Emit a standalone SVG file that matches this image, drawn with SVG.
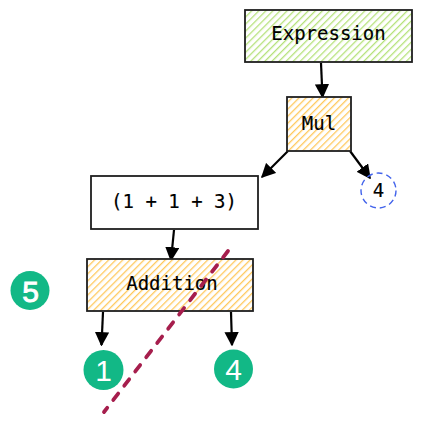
<svg xmlns="http://www.w3.org/2000/svg" width="421" height="422" viewBox="0 0 421 422">
<defs>
<pattern id="hg" patternUnits="userSpaceOnUse" width="5" height="5" patternTransform="rotate(45)">
<rect width="5" height="5" fill="#ffffff"/>
<line x1="0" y1="0" x2="0" y2="5" stroke="#b5e27a" stroke-width="2.6"/>
</pattern>
<pattern id="ho" patternUnits="userSpaceOnUse" width="5" height="5" patternTransform="rotate(45)">
<rect width="5" height="5" fill="#ffffff"/>
<line x1="0" y1="0" x2="0" y2="5" stroke="#ffc95c" stroke-width="2.6"/>
</pattern>
<marker id="ah" viewBox="0 0 10 10" refX="9" refY="5" markerWidth="6.5" markerHeight="6.5" orient="auto-start-reverse" markerUnits="strokeWidth">
<path d="M0,0 L10,5 L0,10 Z" fill="#000"/>
</marker>
</defs>
<style>
.box{stroke:#1e1e1e;stroke-width:1.8}
.lbl{font-family:"DejaVu Sans Mono","Liberation Mono",monospace;font-size:19px;fill:#000;stroke:#000;stroke-width:0.15;text-anchor:middle}
.badge{fill:#12b886}
.bt{font-family:"Liberation Sans","DejaVu Sans",sans-serif;font-size:30px;fill:#ffffff;text-anchor:middle}
.bold{stroke:#ffffff;stroke-width:0.9}
.conn{stroke:#000;stroke-width:2.2;fill:none;marker-end:url(#ah)}
</style>
<g id="connectors">
<line class="conn" x1="321" y1="63" x2="322.5" y2="97"/>
<line class="conn" x1="288" y1="151" x2="262" y2="177"/>
<line class="conn" x1="350" y1="151" x2="370" y2="178"/>
<line class="conn" x1="174" y1="230" x2="171" y2="260"/>
<line class="conn" x1="103" y1="312" x2="101.5" y2="345"/>
<line class="conn" x1="231" y1="312" x2="232" y2="345"/>
</g>
<g id="expression">
<rect class="box" x="245" y="10" width="167" height="52" fill="url(#hg)"/>
<text class="lbl" x="328.5" y="40">Expression</text>
</g>
<g id="mul">
<rect class="box" x="287" y="97" width="64" height="54" fill="url(#ho)"/>
<text class="lbl" x="319" y="130">Mul</text>
</g>
<g id="four-literal">
<circle cx="378.5" cy="190.5" r="17.5" fill="none" stroke="#4263eb" stroke-width="1.4" stroke-dasharray="6 4"/>
<text class="lbl" x="378.5" y="197">4</text>
</g>
<g id="paren">
<rect class="box" x="91" y="176" width="167" height="53" fill="#ffffff"/>
<text class="lbl" x="174" y="208">(1 + 1 + 3)</text>
</g>
<g id="addition">
<rect class="box" x="87" y="259" width="166" height="52" fill="url(#ho)"/>
<text class="lbl" x="172" y="290">Addition</text>
</g>
<g id="badge5">
<circle class="badge" cx="30" cy="290.5" r="19.5"/>
<text class="bt bold" x="30.5" y="301.5">5</text>
</g>
<g id="badge1">
<circle class="badge" cx="103.5" cy="370" r="20"/>
<text class="bt" x="103.5" y="381">1</text>
</g>
<g id="badge4">
<circle class="badge" cx="233.5" cy="369" r="19.5"/>
<text class="bt" x="233.5" y="380">4</text>
</g>
<line x1="228" y1="251" x2="104" y2="412" stroke="#a61e4d" stroke-width="3.8" stroke-linecap="round" stroke-dasharray="8 10"/>
</svg>
